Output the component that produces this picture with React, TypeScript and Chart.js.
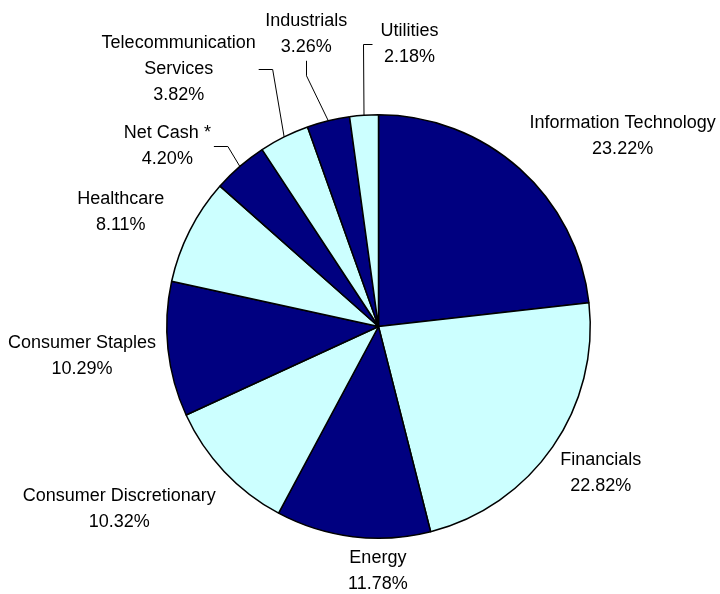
import React, { useEffect, useRef } from "react";
import { Chart, registerables } from "chart.js";

Chart.register(...registerables);

// ---- data ----
const CATEGORIES: string[] = [
  "Information Technology",
  "Financials",
  "Energy",
  "Consumer Discretionary",
  "Consumer Staples",
  "Healthcare",
  "Net Cash *",
  "Telecommunication\nServices",
  "Industrials",
  "Utilities",
];
const WEIGHTS: number[] = [23.22, 22.82, 11.78, 10.32, 10.29, 8.11, 4.2, 3.82, 3.26, 2.18];

// ---- styling / label placement (relative to each slice's outer mid point) ----
const DARK = "#000080";
const LIGHT = "#CCFFFF";
const SLICE_COLORS = WEIGHTS.map((_, i) => (i % 2 === 0 ? DARK : LIGHT));
const LABEL_OFFSETS: [number, number][] = [
  [103, -33],
  [48, 26],
  [25, 34],
  [-105, 37],
  [-86, 7],
  [-69, -19],
  [-72.5, -20],
  [-105.5, -67.5],
  [-22, -87],
  [45.5, -71.5],
];
const LEADERS: (null | "left" | "right" | "bottom")[] = [
  null, null, null, null, null, null, "right", "right", "bottom", "left",
];
const FONT = "18px 'Liberation Sans', Arial, sans-serif";
const LINE_H = 26;

const labelPlugin = {
  id: "sliceLabels",
  afterDatasetsDraw(chart: any) {
    const ctx: CanvasRenderingContext2D = chart.ctx;
    const meta = chart.getDatasetMeta(0);
    ctx.save();
    ctx.font = FONT;
    ctx.fillStyle = "#000";
    ctx.textAlign = "center";
    ctx.textBaseline = "middle";
    meta.data.forEach((arc: any, i: number) => {
      const p = arc.getProps(["x", "y", "startAngle", "endAngle", "outerRadius"], true);
      const mid = (p.startAngle + p.endAngle) / 2;
      const ax = p.x + Math.cos(mid) * p.outerRadius;
      const ay = p.y + Math.sin(mid) * p.outerRadius;
      const [dx, dy] = LABEL_OFFSETS[i];
      const cx = ax + dx;
      const cy = ay + dy;
      const lines = [...CATEGORIES[i].split("\n"), WEIGHTS[i].toFixed(2) + "%"];
      const n = lines.length;
      let maxW = 0;
      lines.forEach((t, k) => {
        maxW = Math.max(maxW, ctx.measureText(t).width);
        ctx.fillText(t, cx, cy + (k - (n - 1) / 2) * LINE_H);
      });
      const hw = maxW / 2;
      const hh = (n * LINE_H) / 2;
      const side = LEADERS[i];
      if (side) {
        ctx.beginPath();
        ctx.strokeStyle = "#000";
        ctx.lineWidth = 1;
        if (side === "right") {
          const sx = cx + hw + 3;
          ctx.moveTo(sx, Math.round(cy) + 0.5);
          ctx.lineTo(sx + 14, Math.round(cy) + 0.5);
          ctx.lineTo(ax, ay);
        } else if (side === "left") {
          const sx = cx - hw - 8;
          ctx.moveTo(sx, Math.round(cy) + 0.5);
          ctx.lineTo(sx - 9, Math.round(cy) + 0.5);
          ctx.lineTo(ax, ay);
        } else {
          const sy = cy + hh + 1;
          ctx.moveTo(Math.round(cx) + 0.5, sy);
          ctx.lineTo(Math.round(cx) + 0.5, sy + 15);
          ctx.lineTo(ax, ay);
        }
        ctx.stroke();
      }
    });
    ctx.restore();
  },
};

export default function App() {
  const ref = useRef<HTMLCanvasElement | null>(null);
  useEffect(() => {
    document.body.style.margin = "0";
    const canvas = ref.current;
    if (!canvas) return;
    const chart = new Chart(canvas, {
      type: "pie",
      data: {
        labels: CATEGORIES.map((c) => c.replace("\n", " ")),
        datasets: [
          {
            data: WEIGHTS,
            backgroundColor: SLICE_COLORS,
            borderColor: "#000",
            borderWidth: 1.5,
          },
        ],
      },
      options: {
        responsive: false,
        animation: false,
        layout: { padding: { left: 166, right: 129, top: 114, bottom: 55 } },
        plugins: {
          legend: { display: false },
          tooltip: { enabled: false },
        },
      },
      plugins: [labelPlugin],
    });
    return () => chart.destroy();
  }, []);
  return (
    <div style={{ position: "absolute", left: 0, top: 0, width: 720, height: 594, background: "#fff" }}>
      <canvas ref={ref} width={720} height={594} />
    </div>
  );
}
